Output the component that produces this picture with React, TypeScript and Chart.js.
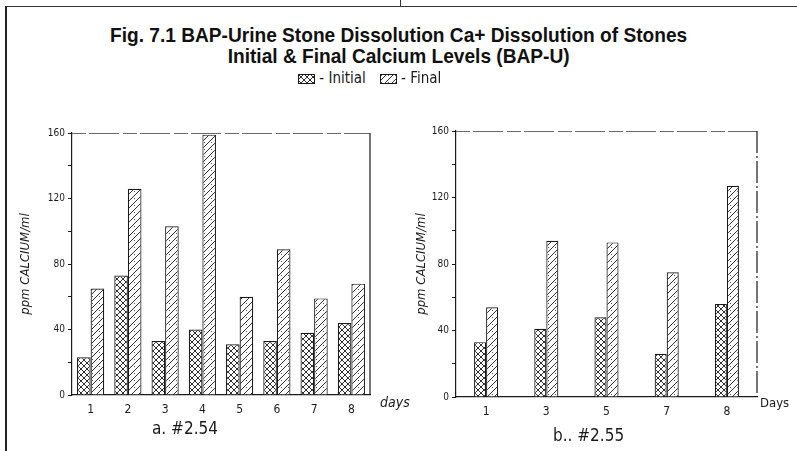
import React, { useEffect, useRef } from 'react';
import { Chart, registerables } from 'chart.js';

Chart.register(...registerables);

// ---------- data ----------
const seriesNames = ['Initial', 'Final'];
const daysA = ['1', '2', '3', '4', '5', '6', '7', '8'];
const initialA = [23, 73, 33, 40, 31, 33, 38, 44];
const finalA = [65, 126, 103, 159, 60, 89, 59, 68];
const daysB = ['1', '3', '5', '7', '8'];
const initialB = [33, 41, 48, 26, 56];
const finalB = [54, 94, 93, 75, 127];
const yMax = 160;
const yStep = 20;
const yLabelStep = 40;
const titleLines = [
  'Fig. 7.1 BAP-Urine Stone Dissolution Ca+ Dissolution of Stones',
  'Initial & Final Calcium Levels (BAP-U)',
];
const axisTitle = 'ppm CALCIUM/ml';
const captionA = 'a. #2.54';
const captionB = 'b.. #2.55';

const INK = '#1a1a1a';
const HAND = '"Liberation Sans Narrow", "DejaVu Sans Condensed", sans-serif';

function makeCross(): CanvasPattern | string {
  const c = document.createElement('canvas');
  c.width = 6;
  c.height = 6;
  const g = c.getContext('2d');
  if (!g) return '#fff';
  g.fillStyle = '#fff';
  g.fillRect(0, 0, 6, 6);
  g.strokeStyle = INK;
  g.lineWidth = 0.9;
  g.beginPath();
  g.moveTo(0, 0);
  g.lineTo(6, 6);
  g.moveTo(6, 0);
  g.lineTo(0, 6);
  g.stroke();
  return g.createPattern(c, 'repeat') || '#fff';
}

function makeHatch(): CanvasPattern | string {
  const c = document.createElement('canvas');
  c.width = 7;
  c.height = 7;
  const g = c.getContext('2d');
  if (!g) return '#fff';
  g.fillStyle = '#fff';
  g.fillRect(0, 0, 7, 7);
  g.strokeStyle = INK;
  g.lineWidth = 0.9;
  g.beginPath();
  g.moveTo(-1, 8);
  g.lineTo(8, -1);
  g.moveTo(-1, 1);
  g.lineTo(1, -1);
  g.moveTo(6, 8);
  g.lineTo(8, 6);
  g.stroke();
  g.fillStyle = '#555';
  g.fillRect(1, 1, 1, 1);
  return g.createPattern(c, 'repeat') || '#fff';
}

const framePlugin = (dashRight: boolean) => ({
  id: 'panelFrame',
  afterDraw(chart: any) {
    const { ctx, chartArea } = chart;
    const { left, right, top, bottom } = chartArea;
    ctx.save();
    ctx.strokeStyle = '#6a6a6a';
    ctx.lineWidth = 1;
    ctx.setLineDash([14, 3, 30, 4]);
    ctx.beginPath();
    ctx.moveTo(left, top + 0.5);
    ctx.lineTo(right, top + 0.5);
    ctx.stroke();
    ctx.strokeStyle = INK;
    ctx.lineWidth = 1.2;
    ctx.setLineDash(dashRight ? [22, 3, 2, 3] : []);
    ctx.beginPath();
    ctx.moveTo(right, top);
    ctx.lineTo(right, bottom);
    ctx.stroke();
    ctx.restore();
  },
});

interface PanelProps {
  labels: string[];
  initial: number[];
  final: number[];
  left: number;
  width: number;
  yAxisWidth: number;
  padTop: number;
  padRight: number;
  xAxisHeight: number;
  titleOffset: number;
  catPct: number;
  dashRight: boolean;
}

function Panel(p: PanelProps) {
  const ref = useRef<HTMLCanvasElement>(null);
  useEffect(() => {
    if (!ref.current) return;
    const chart = new Chart(ref.current, {
      type: 'bar',
      data: {
        labels: p.labels,
        datasets: [
          {
            label: seriesNames[0],
            data: p.initial,
            backgroundColor: makeCross() as any,
            borderColor: INK,
            borderWidth: 1.2,
            categoryPercentage: p.catPct,
            barPercentage: 1,
          },
          {
            label: seriesNames[1],
            data: p.final,
            backgroundColor: makeHatch() as any,
            borderColor: INK,
            borderWidth: 1.2,
            categoryPercentage: p.catPct,
            barPercentage: 1,
          },
        ],
      },
      options: {
        animation: false,
        responsive: false,
        maintainAspectRatio: false,
        layout: { padding: { top: p.padTop, right: p.padRight, left: 0, bottom: 0 } },
        plugins: {
          legend: { display: false },
          title: { display: false },
          tooltip: { enabled: false },
        },
        scales: {
          x: {
            grid: { display: false },
            border: { display: true, color: INK, width: 1.2 },
            ticks: {
              color: INK,
              font: { family: HAND, size: 12 },
              padding: 0,
              maxRotation: 0,
            },
            afterFit: (s: any) => {
              s.height = p.xAxisHeight;
            },
          },
          y: {
            min: 0,
            max: yMax,
            border: { display: true, color: INK, width: 1.2 },
            grid: { drawOnChartArea: false, drawTicks: true, tickLength: 4, color: INK },
            ticks: {
              stepSize: yStep,
              autoSkip: false,
              color: INK,
              font: { family: HAND, size: 10 },
              padding: 3,
              callback: (v: any) => (Number(v) % yLabelStep === 0 ? String(v) : ''),
            },
            title: {
              display: true,
              text: axisTitle,
              color: INK,
              font: { family: HAND, size: 13, style: 'italic' },
              padding: { top: p.titleOffset, bottom: 0 },
            },
            afterFit: (s: any) => {
              s.width = p.yAxisWidth;
            },
          },
        },
      },
      plugins: [framePlugin(p.dashRight)],
    });
    return () => chart.destroy();
  }, []);
  return (
    <canvas
      ref={ref}
      width={p.width}
      height={330}
      style={{ position: 'absolute', left: p.left, top: 120, width: p.width, height: 330 }}
    />
  );
}

function Swatch({ kind }: { kind: 'cross' | 'hatch' }) {
  const ref = useRef<HTMLCanvasElement>(null);
  useEffect(() => {
    const c = ref.current;
    if (!c) return;
    const g = c.getContext('2d');
    if (!g) return;
    g.fillStyle = (kind === 'cross' ? makeCross() : makeHatch()) as any;
    g.fillRect(0, 0, 17, 10);
    g.strokeStyle = INK;
    g.lineWidth = 1;
    g.strokeRect(0.5, 0.5, 16, 9);
  }, []);
  return <canvas ref={ref} width={17} height={10} style={{ display: 'inline-block', verticalAlign: 'middle' }} />;
}

const abs = (o: any) => ({ position: 'absolute' as const, ...o });

export default function App() {
  useEffect(() => {
    document.body.style.margin = '0';
  }, []);
  return (
    <div style={{ position: 'relative', width: 797, height: 451, background: '#fff', overflow: 'hidden' }}>
      {/* page frame */}
      <div style={abs({ left: 5, top: 6, width: 800, height: 460, borderLeft: '2px solid #222', borderTop: '1.5px solid #333' })} />
      <div style={abs({ left: 400, top: 0, width: 0, height: 6, borderLeft: '1.5px solid #333' })} />

      {/* title */}
      <div
        style={abs({
          left: 0,
          top: 24,
          width: 797,
          textAlign: 'center',
          fontFamily: '"Liberation Sans Narrow", "Liberation Sans", sans-serif',
          fontWeight: 'bold',
          fontSize: 21,
          lineHeight: '21px',
          color: '#111',
          transform: 'scaleX(0.91)',
          transformOrigin: '400px 0',
        })}
      >
        <div>{titleLines[0]}</div>
        <div>{titleLines[1]}</div>
      </div>

      {/* legend */}
      <div
        style={abs({
          left: 298,
          top: 69,
          fontFamily: HAND,
          fontSize: 15,
          color: INK,
          whiteSpace: 'nowrap',
        })}
      >
        <Swatch kind="cross" />
        <span> - {seriesNames[0]}</span>
        <span style={{ display: 'inline-block', width: 14 }} />
        <Swatch kind="hatch" />
        <span> - {seriesNames[1]}</span>
      </div>

      <Panel
        labels={daysA}
        initial={initialA}
        final={finalA}
        left={0}
        width={400}
        yAxisWidth={72}
        padTop={13}
        padRight={30}
        xAxisHeight={55}
        titleOffset={18}
        catPct={0.73}
        dashRight={false}
      />
      <Panel
        labels={daysB}
        initial={initialB}
        final={finalB}
        left={400}
        width={397}
        yAxisWidth={56}
        padTop={11}
        padRight={40}
        xAxisHeight={53}
        titleOffset={14}
        catPct={0.4}
        dashRight={true}
      />

      <div style={abs({ left: 380, top: 394, fontFamily: HAND, fontSize: 14, fontStyle: 'italic', color: INK })}>days</div>
      <div style={abs({ left: 760, top: 395, fontFamily: HAND, fontSize: 13, color: INK })}>Days</div>
      <div style={abs({ left: 152, top: 418, fontFamily: HAND, fontSize: 17, color: INK })}>{captionA}</div>
      <div style={abs({ left: 553, top: 425, fontFamily: HAND, fontSize: 17, color: INK })}>{captionB}</div>
    </div>
  );
}
